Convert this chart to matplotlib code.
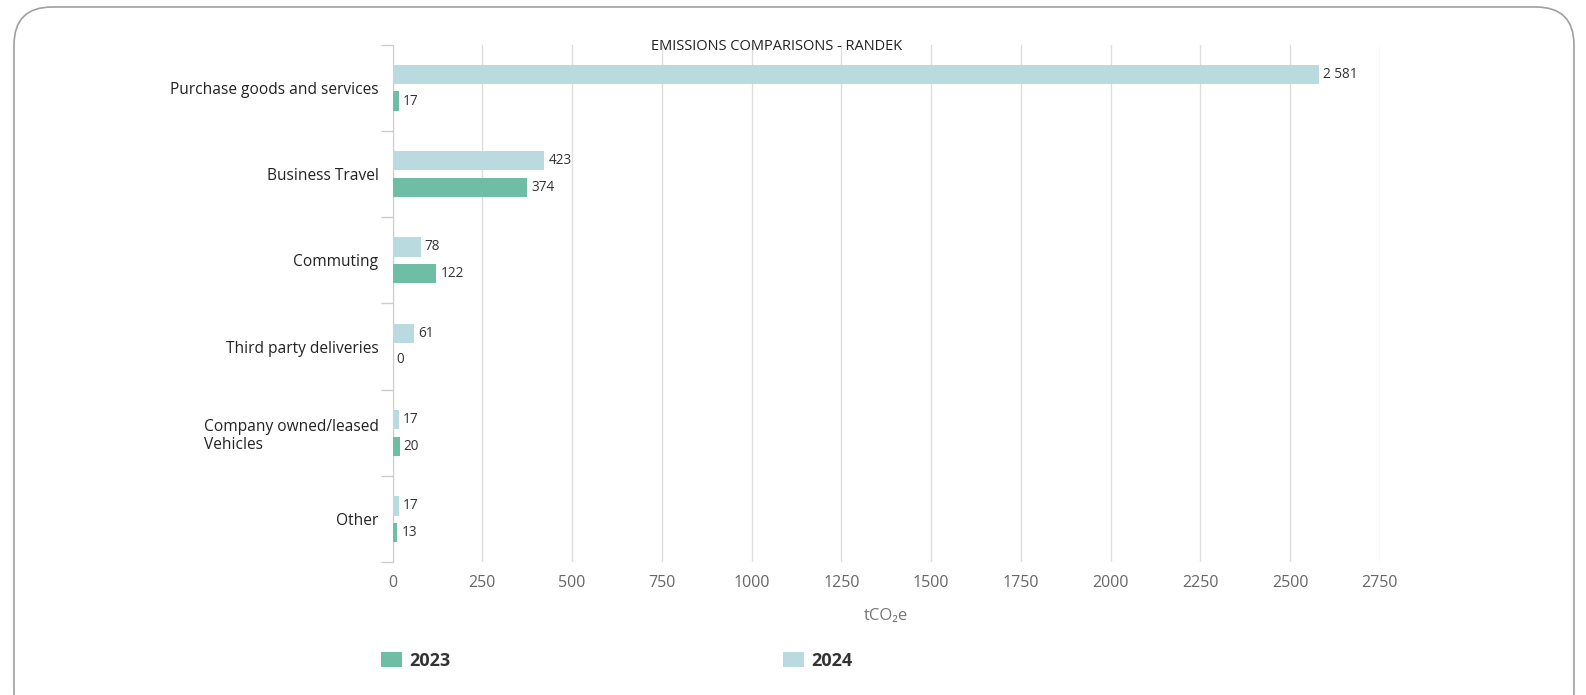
import matplotlib.pyplot as plt
from matplotlib.patches import FancyBboxPatch, Patch
import numpy as np

# data
categories = [
    "Purchase goods and services",
    "Business Travel",
    "Commuting",
    "Third party deliveries",
    "Company owned/leased\nVehicles",
    "Other",
]
values_2024 = [2581, 423, 78, 61, 17, 17]
values_2023 = [17, 374, 122, 0, 20, 13]
xticks = [0, 250, 500, 750, 1000, 1250, 1500, 1750, 2000, 2250, 2500, 2750]

COLOR_2023 = "#6ebea5"
COLOR_2024 = "#b9dbdf"
FONT = ["Open Sans", "DejaVu Sans"]

plt.rcParams["font.family"] = FONT

W, H = 1586, 695
fig = plt.figure(figsize=(W / 100, H / 100), dpi=100)

# rounded frame around the whole chart
frame = FancyBboxPatch(
    (14 / W, -0.05), (1574 - 14) / W, 1.05 - 7 / H,
    boxstyle="round,pad=0,rounding_size=0.024",
    transform=fig.transFigure, facecolor="none", edgecolor="#a0a0a0",
    linewidth=1.2, mutation_aspect=W / H, zorder=-1,
)
fig.patches.append(frame)

ax = fig.add_axes([392.5 / W, 1 - 562.4 / H, (1380 - 392.5) / W, (562.4 - 44.5) / H])
ax.set_facecolor("none")

y = np.arange(len(categories))
off = 0.155
hgt = 0.225
ax.barh(y - off, values_2024, height=hgt, color=COLOR_2024, zorder=3)
ax.barh(y + off, values_2023, height=hgt, color=COLOR_2023, zorder=3)

def fmt(v):
    return f"{v:,}".replace(",", " ")

for yi, v in zip(y - off, values_2024):
    ax.annotate(fmt(v), (v, yi), xytext=(3, 0), textcoords="offset points",
                va="center", ha="left", fontsize=9.8, color="#333333")
for yi, v in zip(y + off, values_2023):
    ax.annotate(fmt(v), (v, yi), xytext=(3, 0), textcoords="offset points",
                va="center", ha="left", fontsize=9.8, color="#333333")

ax.set_xlim(0, 2750)
ax.set_ylim(len(categories) - 0.5, -0.5)

# category ticks at the band boundaries, labels in the middle
ax.set_yticks(np.arange(len(categories) + 1) - 0.5)
ax.set_yticklabels([])
ax.set_yticks(y, minor=True)
ax.set_yticklabels(categories, minor=True, fontsize=11.2, color="#222222",
                   multialignment="left")
ax.tick_params(axis="y", which="major", length=9, color="#cccccc", width=1)
ax.tick_params(axis="y", which="minor", length=0, pad=10)

ax.set_xticks(xticks)
ax.set_xticklabels([str(t) for t in xticks], fontsize=11.5, color="#666666")
ax.tick_params(axis="x", length=0, pad=9)
ax.grid(axis="x", color="#dddddd", linewidth=1, zorder=0)

for s in ["top", "right", "bottom"]:
    ax.spines[s].set_visible(False)
ax.spines["left"].set_color("#cccccc")

ax.set_xlabel("tCO₂e", fontsize=12, color="#777777", labelpad=12)

fig.text(777 / W, 1 - 46 / H, "EMISSIONS COMPARISONS - RANDEK", ha="center",
         va="center", fontsize=10.5, color="#222222")

handles = [Patch(facecolor=COLOR_2023, label="2023"),
           Patch(facecolor=COLOR_2024, label="2024")]
leg = fig.legend(handles=handles, loc="center left", ncol=2, frameon=False,
                 bbox_to_anchor=(381 / W, 1 - 661 / H), borderpad=0,
                 borderaxespad=0, handlelength=1.15, handleheight=0.9,
                 handletextpad=0.4, columnspacing=18.45,
                 prop={"size": 13, "weight": "bold"})
for t in leg.get_texts():
    t.set_color("#333333")

fig.savefig("out.png", dpi=100)
